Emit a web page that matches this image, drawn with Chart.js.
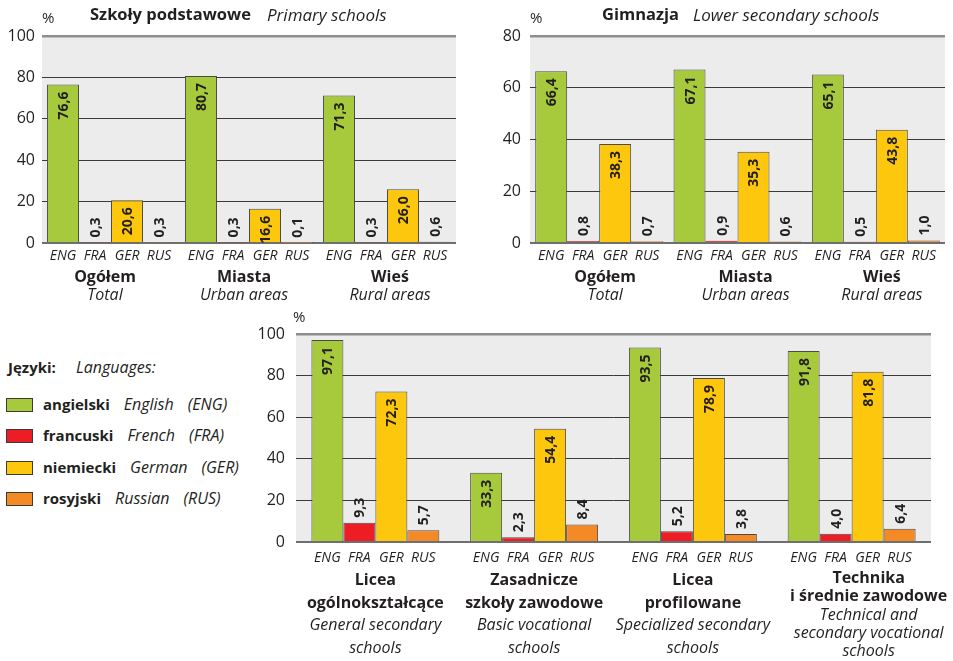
<!DOCTYPE html>
<html lang="pl">
<head>
<meta charset="utf-8">
<title>Języki obce w szkołach</title>
<script src="https://cdn.jsdelivr.net/npm/chart.js@4.4.1/dist/chart.umd.min.js"></script>
<style>
  html, body { margin: 0; padding: 0; background: #fff; }
  #page { position: relative; width: 953px; height: 661px; overflow: hidden;
          font-family: "Open Sans", sans-serif; color: #231f20; }
  #page canvas { position: absolute; }
  .t { position: absolute; white-space: nowrap; line-height: 1; }
  .b { font-weight: 700; }
  .i { font-style: italic; }
  .swatch { position: absolute; left: 0; width: 25px; height: 12px; border: 1px solid #3a3a3a; }
</style>
</head>
<body>
<div id="page">
  <canvas id="primary" width="470" height="310" style="left:0;top:0;width:470px;height:310px"></canvas>
  <canvas id="lower" width="473" height="310" style="left:480px;top:0;width:473px;height:310px"></canvas>
  <canvas id="upper" width="713" height="351" style="left:240px;top:310px;width:713px;height:351px"></canvas>
  <div id="overlay"></div>
</div>
<script>
// ---- data ----
const languageCodes = ['ENG', 'FRA', 'GER', 'RUS'];
const languagePl = ['angielski', 'francuski', 'niemiecki', 'rosyjski'];
const languageEn = ['English', 'French', 'German', 'Russian'];

// Szkoły podstawowe / Primary schools
const primaryGroupsPl = ['Ogółem', 'Miasta', 'Wieś'];
const primaryGroupsEn = ['Total', 'Urban areas', 'Rural areas'];
const primaryENG = [76.6, 80.7, 71.3];
const primaryFRA = [0.3, 0.3, 0.3];
const primaryGER = [20.6, 16.6, 26.0];
const primaryRUS = [0.3, 0.1, 0.6];

// Gimnazja / Lower secondary schools
const lowerGroupsPl = ['Ogółem', 'Miasta', 'Wieś'];
const lowerGroupsEn = ['Total', 'Urban areas', 'Rural areas'];
const lowerENG = [66.4, 67.1, 65.1];
const lowerFRA = [0.8, 0.9, 0.5];
const lowerGER = [38.3, 35.3, 43.8];
const lowerRUS = [0.7, 0.6, 1.0];

// Szkoły ponadgimnazjalne / Upper secondary schools
const upperGroupsPl = [['Licea', 'ogólnokształcące'], ['Zasadnicze', 'szkoły zawodowe'],
                       ['Licea', 'profilowane'], ['Technika', 'i średnie zawodowe']];
const upperGroupsEn = [['General secondary', 'schools'], ['Basic vocational', 'schools'],
                       ['Specialized secondary', 'schools'], ['Technical and', 'secondary vocational', 'schools']];
const upperENG = [97.1, 33.3, 93.5, 91.8];
const upperFRA = [9.3, 2.3, 5.2, 4.0];
const upperGER = [72.3, 54.4, 78.9, 81.8];
const upperRUS = [5.7, 8.4, 3.8, 6.4];

// ---- styles ----
const FONT = '"Open Sans", sans-serif';
const TEXT = '#231f20';
const barColors = ['#a6ca3b', '#ec1d25', '#fdc70d', '#f38a25'];
const barBorder = '#4b4b4b';

function fmt(v) { return v.toFixed(1).replace('.', ','); }

function textPlugin(p) {
  return {
    id: 'panelText',
    beforeDraw(chart) {
      const { ctx, chartArea: a } = chart;
      ctx.save();
      ctx.fillStyle = '#ececec';
      ctx.fillRect(a.left, a.top, a.right - a.left, a.bottom - a.top);
      ctx.restore();
    },
    afterDatasetsDraw(chart) {
      const ctx = chart.ctx;
      ctx.save();
      ctx.font = `bold 14px ${FONT}`;
      ctx.fillStyle = TEXT;
      ctx.textBaseline = 'alphabetic';
      chart.data.datasets.forEach((ds, i) => {
        chart.getDatasetMeta(i).data.forEach((bar, j) => {
          const txt = fmt(ds.data[j]);
          const w = ctx.measureText(txt).width;
          const h = bar.base - bar.y;
          ctx.save();
          ctx.translate(bar.x, 0);
          ctx.rotate(-Math.PI / 2);
          if (h > w + 2) {
            // value written inside the bar, just under its top
            ctx.textAlign = 'right';
            ctx.fillText(txt, -(bar.y + 7), 5);
          } else {
            // short bar: value written above it
            ctx.textAlign = 'left';
            ctx.fillText(txt, -(bar.y - 5), 5);
          }
          ctx.restore();
        });
      });
      ctx.restore();
    },
    afterDraw(chart) {
      const { ctx, chartArea: a } = chart;
      const xScale = chart.scales.x;
      ctx.save();
      ctx.fillStyle = TEXT;
      ctx.textAlign = 'center';
      ctx.textBaseline = 'alphabetic';

      // language codes under each bar
      ctx.font = `italic 14px ${FONT}`;
      chart.data.datasets.forEach((ds, i) => {
        chart.getDatasetMeta(i).data.forEach(bar => {
          ctx.fillText(languageCodes[i], bar.x, a.bottom + p.langOffset);
        });
      });

      // group names: Polish (bold) then English (italic)
      chart.data.labels.forEach((lbl, j) => {
        const x = xScale.getPixelForValue(j) + p.shift[j];
        const pl = [].concat(p.groupsPl[j]);
        const en = [].concat(p.groupsEn[j]);
        const tight = pl.length + en.length > 4;
        const lh = tight ? 18.3 : p.lineHeight;
        let y = a.bottom + (tight ? 41 : p.firstLine);
        ctx.font = `bold 16px ${FONT}`;
        pl.forEach(s => { ctx.fillText(s, x, y); y += lh; });
        ctx.font = `italic 16px ${FONT}`;
        en.forEach(s => { ctx.fillText(s, x, y); y += lh; });
      });

      // unit
      ctx.textAlign = 'left';
      ctx.font = `15px ${FONT}`;
      ctx.fillText('%', p.pctX, p.pctY);
      ctx.restore();
    }
  };
}

function makeChart(p) {
  const datasets = p.series.map((vals, i) => ({
    label: languageCodes[i],
    data: vals,
    backgroundColor: barColors[i],
    borderColor: barBorder,
    borderWidth: 1,
    categoryPercentage: p.catPct,
    barPercentage: 1
  }));
  return new Chart(document.getElementById(p.id), {
    type: 'bar',
    data: { labels: p.groupsPl.map(g => [].concat(g).join(' ')), datasets },
    options: {
      responsive: false,
      animation: false,
      devicePixelRatio: 1,
      events: [],
      layout: { padding: p.padding },
      plugins: { legend: { display: false }, tooltip: { enabled: false } },
      scales: {
        x: { display: false },
        y: {
          min: 0, max: p.max,
          afterFit(scale) { scale.width = 40; },
          border: { display: false },
          grid: {
            drawTicks: false,
            color: c => c.tick.value === p.max ? '#8e8e8e' : (c.tick.value === 0 ? '#6f6f6f' : '#3a3a3a'),
            lineWidth: c => c.tick.value === p.max ? 2.5 : (c.tick.value === 0 ? 2 : 1)
          },
          ticks: {
            stepSize: 20,
            padding: p.tickPad,
            color: TEXT,
            font: { family: FONT, size: 16 }
          }
        }
      }
    },
    plugins: [textPlugin(p)]
  });
}

makeChart({
  id: 'primary', max: 100, catPct: 0.928,
  series: [primaryENG, primaryFRA, primaryGER, primaryRUS],
  groupsPl: primaryGroupsPl, groupsEn: primaryGroupsEn,
  padding: { left: 2, right: 14, top: 36, bottom: 67 },
  tickPad: 7, langOffset: 17, firstLine: 39, lineHeight: 18,
  shift: [-6, -5, 3], pctX: 42, pctY: 23
});

makeChart({
  id: 'lower', max: 80, catPct: 0.925,
  series: [lowerENG, lowerFRA, lowerGER, lowerRUS],
  groupsPl: lowerGroupsPl, groupsEn: lowerGroupsEn,
  padding: { left: 10, right: 8, top: 36, bottom: 67 },
  tickPad: 9, langOffset: 17, firstLine: 39, lineHeight: 18,
  shift: [6, 8, 6], pctX: 50, pctY: 23
});

makeChart({
  id: 'upper', max: 100, catPct: 0.806,
  series: [upperENG, upperFRA, upperGER, upperRUS],
  groupsPl: upperGroupsPl, groupsEn: upperGroupsEn,
  padding: { left: 16, right: 22, top: 24, bottom: 119 },
  tickPad: 11, langOffset: 20, firstLine: 43, lineHeight: 22.7,
  shift: [0, 0, 0, 17], pctX: 53, pctY: 12
});

// ---- titles and legend (HTML text) ----
const overlay = document.getElementById('overlay');
function put(text, cls, x, baseline, size) {
  const el = document.createElement('div');
  el.className = 't ' + cls;
  el.textContent = text;
  el.style.left = x + 'px';
  el.style.top = (baseline - 0.888 * size) + 'px';
  el.style.fontSize = size + 'px';
  overlay.appendChild(el);
  return el;
}
put('Szkoły podstawowe', 'b', 90, 21, 16.5);
put('Primary schools', 'i', 267, 21, 17);
put('Gimnazja', 'b', 602, 21, 16.5);
put('Lower secondary schools', 'i', 693, 21, 17);

put('Języki:', 'b', 8, 373, 15);
put('Languages:', 'i', 76, 373, 16);

const legendBaselines = [410, 441, 473, 504];
languageCodes.forEach((code, i) => {
  const yb = legendBaselines[i];
  const sw = document.createElement('div');
  sw.className = 'swatch';
  sw.style.left = '6px';
  sw.style.top = (yb - 12) + 'px';
  sw.style.background = barColors[i];
  overlay.appendChild(sw);
  const a = put(languagePl[i], 'b', 43, yb, 15);
  const b = put(languageEn[i], 'i', 0, yb, 16);
  const c = put('(' + code + ')', 'i', 0, yb, 16);
  const ax = 43 + a.getBoundingClientRect().width + 14;
  b.style.left = ax + 'px';
  c.style.left = (ax + b.getBoundingClientRect().width + 14) + 'px';
});
</script>
</body>
</html>
